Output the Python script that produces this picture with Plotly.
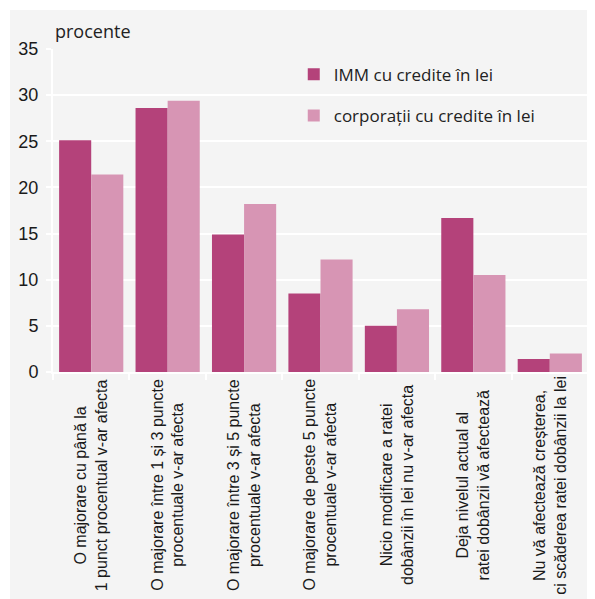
import plotly.graph_objects as go

categories = [
    "O majorare cu până la<br>1 punct procentual v-ar afecta",
    "O majorare între 1 și 3 puncte<br>procentuale v-ar afecta",
    "O majorare între 3 și 5 puncte<br>procentuale v-ar afecta",
    "O majorare de peste 5 puncte<br>procentuale v-ar afecta",
    "Nicio modificare a ratei<br>dobânzii în lei nu v-ar afecta",
    "Deja nivelul actual al<br>ratei dobânzii vă afectează",
    "Nu vă afectează creșterea,<br>ci scăderea ratei dobânzii la lei",
]
imm = [25.1, 28.6, 14.9, 8.5, 5.0, 16.7, 1.4]
corporatii = [21.4, 29.4, 18.2, 12.2, 6.8, 10.5, 2.0]
y_ticks = [0, 5, 10, 15, 20, 25, 30, 35]

dark = "#b4427a"
light = "#d795b4"
bg = "#f4f4f4"
narrow = "Liberation Sans Narrow, Arial Narrow, sans-serif"

fig = go.Figure()
fig.add_trace(go.Bar(x=categories, y=imm, name="IMM cu credite în lei",
                     marker=dict(color=dark, line=dict(width=0)), legendgroup="a"))
fig.add_trace(go.Bar(x=categories, y=corporatii, name="corporații cu credite în lei",
                     marker=dict(color=light, line=dict(width=0)), legendgroup="b"))

# category labels, rotated and centred
for c in categories:
    fig.add_annotation(x=c, y=-0.35, xref="x", yref="paper", text=c,
                       textangle=-90, showarrow=False, align="center",
                       font=dict(family=narrow, size=16, color="#1a1a1a"),
                       xanchor="center", yanchor="middle")

fig.add_annotation(x=0, y=1.0, xref="paper", yref="paper", text="procente",
                   showarrow=False, xanchor="left", yanchor="bottom", yshift=4,
                   font=dict(family="Open Sans, sans-serif", size=18, color="#222"))

# grey panel with white border
fig.add_shape(type="rect", xref="paper", yref="paper", layer="below",
              x0=-0.0804, x1=1.03, y0=-0.72, y1=1.1207,
              fillcolor=bg, line=dict(width=0))

fig.update_layout(
    width=587, height=591,
    margin=dict(l=45, r=7, t=41, b=227),
    paper_bgcolor="white", plot_bgcolor=bg,
    barmode="group", bargap=0.16, bargroupgap=0,
    font=dict(family=narrow, size=16, color="#1a1a1a"),
    legend=dict(x=0.45, y=0.976, xanchor="left", yanchor="top",
                bgcolor="rgba(0,0,0,0)", tracegroupgap=16,
                font=dict(family="Open Sans, sans-serif", size=17, color="#222"),
                itemsizing="constant"),
    showlegend=True,
)
fig.update_xaxes(showticklabels=False, tickson="boundaries", ticks="outside",
                 ticklen=6, tickcolor="white", tickwidth=2,
                 showline=True, linecolor="white", linewidth=2,
                 showgrid=False)
fig.update_yaxes(range=[0, 35], tickvals=y_ticks, ticks="outside", ticklen=5,
                 tickcolor="white", tickwidth=2, gridcolor="white", gridwidth=2,
                 showline=True, linecolor="white", linewidth=2, zeroline=False,
                 ticklabelstandoff=4,
                 tickfont=dict(family=narrow, size=18, color="#1a1a1a"))

fig.write_html("out.html")
